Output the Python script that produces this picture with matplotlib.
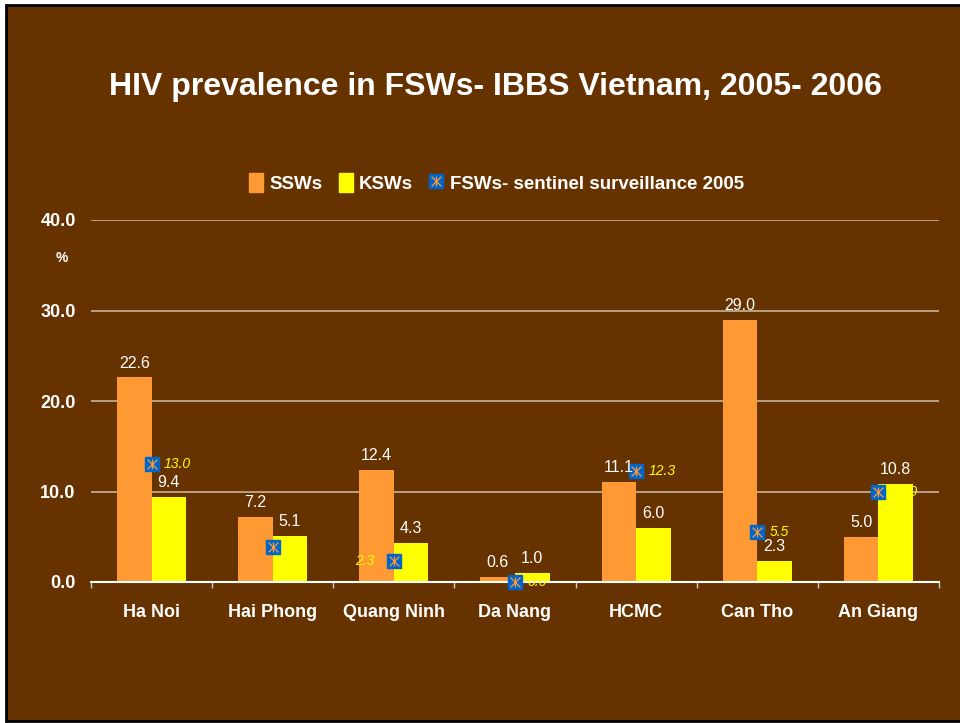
import matplotlib.pyplot as plt
import numpy as np
from matplotlib.lines import Line2D
from matplotlib.patches import Rectangle
from matplotlib.path import Path

plt.rcParams["font.family"] = ["Liberation Sans", "DejaVu Sans"]

BG = "#663300"
SSW_COLOR = "#FF9933"
KSW_COLOR = "#FFFF00"
MARK_BLUE = "#0066CC"
MARK_LABEL = "#FFFF00"

# data
provinces = ["Ha Noi", "Hai Phong", "Quang Ninh", "Da Nang", "HCMC", "Can Tho", "An Giang"]
ssw = [22.6, 7.2, 12.4, 0.6, 11.1, 29.0, 5.0]
ksw = [9.4, 5.1, 4.3, 1.0, 6.0, 2.3, 10.8]
fsw_sentinel = [13.0, 3.9, 2.3, 0.0, 12.3, 5.5, 10.0]
y_ticks = [0.0, 10.0, 20.0, 30.0, 40.0]

# excel style star: an X with a vertical bar through it
STAR = Path([(-1, -1), (1, 1), (-1, 1), (1, -1), (0, -1), (0, 1)],
            [Path.MOVETO, Path.LINETO, Path.MOVETO, Path.LINETO, Path.MOVETO, Path.LINETO])


def sentinel_style():
    square = dict(linestyle="none", marker="s", markersize=9.5, color=MARK_BLUE)
    star = dict(linestyle="none", marker=STAR, markersize=7, markerfacecolor="none",
                markeredgecolor=SSW_COLOR, markeredgewidth=0.9)
    return square, star


fig = plt.figure(figsize=(9.6, 7.23), dpi=100, facecolor="white")
fig.patches.append(Rectangle((6 / 960, 2 / 723), 1.0, 716 / 723, transform=fig.transFigure,
                             facecolor=BG, edgecolor="black", linewidth=2.0, zorder=-10))

ax = fig.add_axes([91 / 960, 1 - 582 / 723, (939 - 91) / 960, (582 - 220) / 723])
ax.set_facecolor("none")

x = np.arange(len(provinces))
w = 0.285
bars_s = ax.bar(x - w / 2, ssw, width=w, color=SSW_COLOR, zorder=2)
bars_k = ax.bar(x + w / 2, ksw, width=w, color=KSW_COLOR, zorder=2)

for bars, vals in ((bars_s, ssw), (bars_k, ksw)):
    for bar, v in zip(bars, vals):
        ax.annotate(f"{v:.1f}", xy=(bar.get_x() + bar.get_width() / 2, v),
                    xytext=(0, 5), textcoords="offset points", ha="center", va="bottom",
                    color="white", fontsize=11.5, zorder=5)

square_kw, star_kw = sentinel_style()
ax.plot(x, fsw_sentinel, zorder=4, clip_on=False, **square_kw)
ax.plot(x, fsw_sentinel, zorder=4.5, clip_on=False, **star_kw)

for i, v in enumerate(fsw_sentinel):
    left = provinces[i] == "Quang Ninh"
    ax.annotate(f"{v:.1f}", xy=(x[i], v), xytext=(-14 if left else 9, 0),
                textcoords="offset points", ha="right" if left else "left", va="center",
                color=MARK_LABEL, fontsize=10, style="italic", zorder=6,
                annotation_clip=False)

ax.set_xlim(-0.5, len(provinces) - 0.5)
ax.set_ylim(0, 40)
ax.set_yticks(y_ticks)
ax.set_yticklabels([f"{t:.1f}" for t in y_ticks], fontsize=13, fontweight="bold", color="white")
ax.set_xticks(x)
ax.set_xticklabels(provinces, fontsize=13, fontweight="bold", color="white")
ax.set_xticks(np.arange(len(provinces) + 1) - 0.5, minor=True)
ax.tick_params(axis="x", which="major", length=0, pad=16)
ax.tick_params(axis="x", which="minor", length=4, color="#cccccc", width=1)
ax.tick_params(axis="y", length=0, pad=11)

ax.grid(True, axis="y", color="#C8B49C", linewidth=1.2, zorder=1)
ax.set_axisbelow(True)
for side in ("left", "right", "top"):
    ax.spines[side].set_visible(False)
ax.spines["bottom"].set_color("white")
ax.spines["bottom"].set_linewidth(1.5)
ax.spines["bottom"].set_zorder(3)

fig.text(62 / 960, 1 - 258 / 723, "%", ha="center", va="center", color="white",
         fontsize=10, fontweight="bold")

fig.text(495 / 960, 1 - 87 / 723, "HIV prevalence in FSWs- IBBS Vietnam, 2005- 2006",
         ha="center", va="center", color="white", fontsize=23, fontweight="bold")

handles = [
    Rectangle((0, 0), 1, 1, color=SSW_COLOR),
    Rectangle((0, 0), 1, 1, color=KSW_COLOR),
    (Line2D([], [], **square_kw), Line2D([], [], **star_kw)),
]
leg = fig.legend(handles, ["SSWs", "KSWs", "FSWs- sentinel surveillance 2005"],
                 loc="center left", bbox_to_anchor=(232 / 960, 1 - 183 / 723), ncol=3,
                 frameon=False, handlelength=0.75, handleheight=1.2, handletextpad=0.35,
                 columnspacing=0.85, prop={"size": 13.5, "weight": "bold"})
for t in leg.get_texts():
    t.set_color("white")

fig.savefig("out.png", dpi=100, facecolor=fig.get_facecolor())
